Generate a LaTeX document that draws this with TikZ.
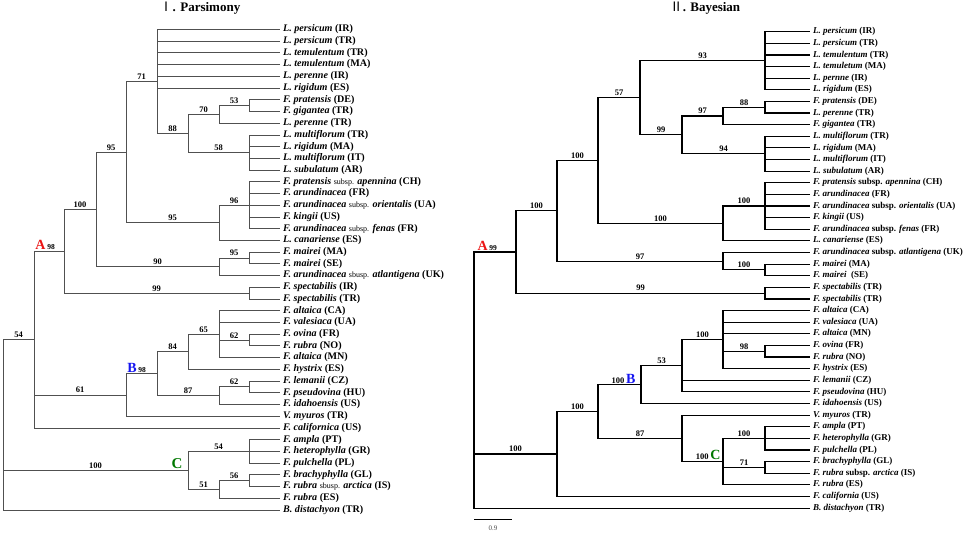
\documentclass[tikz,border=0pt]{standalone}
\usepackage{fontspec}
\setmainfont{Liberation Serif}
\newfontfamily\cjk{Noto Sans CJK SC}
\definecolor{lgray}{RGB}{80,80,80}
\definecolor{cred}{RGB}{235,20,20}
\definecolor{cblue}{RGB}{20,20,240}
\definecolor{cgreen}{RGB}{0,120,0}
\newcommand\spn[1]{\textit{#1}}
\newcommand\ssp[1]{{\fontsize{8}{8}\selectfont\mdseries #1}}
\newcommand\cladeL[3]{\textcolor{#1}{\fontsize{14}{14}\selectfont\bfseries #2}\,{\fontsize{7.5}{8}\selectfont\bfseries #3}}
\newcommand\cladeR[3]{{\fontsize{8.5}{9}\selectfont\bfseries #3}\,\textcolor{#1}{\fontsize{14}{14}\selectfont\bfseries #2}}
\tikzset{
  le/.style={draw=lgray, line width=0.95pt},
  re/.style={draw=black, line width=1.15pt},
  lleaf/.style={anchor=west, inner xsep=3pt, inner ysep=0pt, text height=6.8pt, text depth=2.2pt, font=\fontsize{10.1}{10.5}\selectfont\bfseries},
  rleaf/.style={anchor=west, inner xsep=3pt, inner ysep=0pt, text height=6.2pt, text depth=2pt, font=\fontsize{9}{10}\selectfont\bfseries},
  blab/.style={anchor=south, inner sep=1.5pt, font=\fontsize{8.5}{9}\selectfont\bfseries},
  ttl/.style={font=\fontsize{13}{14}\selectfont\bfseries, inner sep=0pt},
}
\begin{document}
\begin{tikzpicture}[x=1pt,y=-1pt]
\useasboundingbox (0,0) rectangle (964,535);
% titles
\node[ttl] (t1) at (200,8.5) {{\cjk\mdseries Ⅰ}. Parsimony};
\node[ttl] (t2) at (705,8.5) {{\cjk\mdseries Ⅱ}. Bayesian};

% ================= LEFT TREE (Parsimony) =================
\node[lleaf] (L1) at (280,29.50) {\spn{L. persicum} (IR)};
\node[lleaf] (L2) at (280,41.22) {\spn{L. persicum} (TR)};
\node[lleaf] (L3) at (280,52.94) {\spn{L. temulentum} (TR)};
\node[lleaf] (L4) at (280,64.66) {\spn{L. temulentum} (MA)};
\node[lleaf] (L5) at (280,76.38) {\spn{L. perenne} (IR)};
\node[lleaf] (L6) at (280,88.10) {\spn{L. rigidum} (ES)};
\node[lleaf] (L7) at (280,99.82) {\spn{F. pratensis} (DE)};
\node[lleaf] (L8) at (280,111.54) {\spn{F. gigantea} (TR)};
\node[lleaf] (L9) at (280,123.26) {\spn{L. perenne} (TR)};
\node[lleaf] (L10) at (280,134.98) {\spn{L. multiflorum} (TR)};
\node[lleaf] (L11) at (280,146.70) {\spn{L. rigidum} (MA)};
\node[lleaf] (L12) at (280,158.42) {\spn{L. multiflorum} (IT)};
\node[lleaf] (L13) at (280,170.14) {\spn{L. subulatum} (AR)};
\node[lleaf] (L14) at (280,181.86) {\spn{F. pratensis} \ssp{subsp.} \spn{apennina} (CH)};
\node[lleaf] (L15) at (280,193.58) {\spn{F. arundinacea} (FR)};
\node[lleaf] (L16) at (280,205.30) {\spn{F. arundinacea} \ssp{subsp.} \spn{orientalis} (UA)};
\node[lleaf] (L17) at (280,217.02) {\spn{F. kingii} (US)};
\node[lleaf] (L18) at (280,228.74) {\spn{F. arundinacea} \ssp{subsp.} \spn{fenas} (FR)};
\node[lleaf] (L19) at (280,240.46) {\spn{L. canariense} (ES)};
\node[lleaf] (L20) at (280,252.18) {\spn{F. mairei} (MA)};
\node[lleaf] (L21) at (280,263.90) {\spn{F. mairei} (SE)};
\node[lleaf] (L22) at (280,275.62) {\spn{F. arundinacea} \ssp{sbusp.} \spn{atlantigena} (UK)};
\node[lleaf] (L23) at (280,287.34) {\spn{F. spectabilis} (IR)};
\node[lleaf] (L24) at (280,299.06) {\spn{F. spectabilis} (TR)};
\node[lleaf] (L25) at (280,310.78) {\spn{F. altaica} (CA)};
\node[lleaf] (L26) at (280,322.50) {\spn{F. valesiaca} (UA)};
\node[lleaf] (L27) at (280,334.22) {\spn{F. ovina} (FR)};
\node[lleaf] (L28) at (280,345.94) {\spn{F. rubra} (NO)};
\node[lleaf] (L29) at (280,357.66) {\spn{F. altaica} (MN)};
\node[lleaf] (L30) at (280,369.38) {\spn{F. hystrix} (ES)};
\node[lleaf] (L31) at (280,381.10) {\spn{F. lemanii} (CZ)};
\node[lleaf] (L32) at (280,392.82) {\spn{F. pseudovina} (HU)};
\node[lleaf] (L33) at (280,404.54) {\spn{F. idahoensis} (US)};
\node[lleaf] (L34) at (280,416.26) {\spn{V. myuros} (TR)};
\node[lleaf] (L35) at (280,427.98) {\spn{F. californica} (US)};
\node[lleaf] (L36) at (280,439.70) {\spn{F. ampla} (PT)};
\node[lleaf] (L37) at (280,451.42) {\spn{F. heterophylla} (GR)};
\node[lleaf] (L38) at (280,463.14) {\spn{F. pulchella} (PL)};
\node[lleaf] (L39) at (280,474.86) {\spn{F. brachyphylla} (GL)};
\node[lleaf] (L40) at (280,486.58) {\spn{F. rubra} \ssp{sbusp.} \spn{arctica} (IS)};
\node[lleaf] (L41) at (280,498.30) {\spn{F. rubra} (ES)};
\node[lleaf] (L42) at (280,510.02) {\spn{B. distachyon} (TR)};

\coordinate (n53) at (249,105.68);
\coordinate (n70) at (219,114.47);
\coordinate (n58) at (249,152.56);
\coordinate (n88) at (188,133.52);
\coordinate (n71) at (157,81.51);
\coordinate (n96) at (249,205.30);
\coordinate (n95b) at (219,222.88);
\coordinate (n95a) at (126,152.20);
\coordinate (n95m) at (249,258.04);
\coordinate (n90) at (219,266.83);
\coordinate (n100) at (96,209.52);
\coordinate (n99) at (249,293.20);
\coordinate (nA) at (64,251.36);
\coordinate (n62a) at (249,340.08);
\coordinate (n65) at (219,334.22);
\coordinate (n84) at (188,351.80);
\coordinate (n62b) at (249,386.96);
\coordinate (n87) at (219,395.75);
\coordinate (nB) at (157,373.78);
\coordinate (n61) at (126,395.02);
\coordinate (n54) at (34,339.67);
\coordinate (n54c) at (249,451.42);
\coordinate (n56) at (249,480.72);
\coordinate (n51) at (219,489.51);
\coordinate (nC) at (188,470.47);
\coordinate (lR) at (3,424.85);

\draw[le] (lR) |- (n54) node[blab,pos=0.75]{54}
  (lR) |- (nC) node[blab,pos=0.75]{100}
  node[pos=1,anchor=south east,inner xsep=5pt,inner ysep=1pt,font=\fontsize{15}{15}\selectfont\bfseries,text=cgreen]{C}
  (lR) |- (L42.west);
\draw[le] (n54) |- (nA) node[pos=0.5,anchor=south west,inner xsep=1pt,inner ysep=1pt]{\cladeL{cred}{A}{98}}
  (n54) |- (n61) node[blab,pos=0.75]{61}
  (n54) |- (L35.west);
\draw[le] (nA) |- (n100) node[blab,pos=0.75]{100}
  (nA) |- (n99) node[blab,pos=0.75]{99};
\draw[le] (n100) |- (n95a) node[blab,pos=0.75]{95}
  (n100) |- (n90) node[blab,pos=0.75]{90};
\draw[le] (n95a) |- (n71) node[blab,pos=0.75]{71}
  (n95a) |- (n95b) node[blab,pos=0.75]{95};
\draw[le] (n71) |- (L1.west) (n71) |- (L2.west) (n71) |- (L3.west)
  (n71) |- (L4.west) (n71) |- (L5.west) (n71) |- (L6.west)
  (n71) |- (n88) node[blab,pos=0.75]{88};
\draw[le] (n88) |- (n70) node[blab,pos=0.75]{70}
  (n88) |- (n58) node[blab,pos=0.75]{58};
\draw[le] (n70) |- (n53) node[blab,pos=0.75]{53}
  (n70) |- (L9.west);
\draw[le] (n53) |- (L7.west) (n53) |- (L8.west);
\draw[le] (n58) |- (L10.west) (n58) |- (L11.west) (n58) |- (L12.west) (n58) |- (L13.west);
\draw[le] (n95b) |- (n96) node[blab,pos=0.75]{96}
  (n95b) |- (L19.west);
\draw[le] (n96) |- (L14.west) (n96) |- (L15.west) (n96) |- (L16.west)
  (n96) |- (L17.west) (n96) |- (L18.west);
\draw[le] (n90) |- (n95m) node[blab,pos=0.75]{95}
  (n90) |- (L22.west);
\draw[le] (n95m) |- (L20.west) (n95m) |- (L21.west);
\draw[le] (n99) |- (L23.west) (n99) |- (L24.west);
\draw[le] (n61) |- (nB) node[pos=0.5,anchor=south west,inner xsep=1pt,inner ysep=1pt]{\cladeL{cblue}{B}{98}}
  (n61) |- (L34.west);
\draw[le] (nB) |- (n84) node[blab,pos=0.75]{84}
  (nB) |- (n87) node[blab,pos=0.75]{87};
\draw[le] (n84) |- (n65) node[blab,pos=0.75]{65}
  (n84) |- (L30.west);
\draw[le] (n65) |- (L25.west) (n65) |- (L26.west) (n65) |- (L29.west)
  (n65) |- (n62a) node[blab,pos=0.75]{62};
\draw[le] (n62a) |- (L27.west) (n62a) |- (L28.west);
\draw[le] (n87) |- (n62b) node[blab,pos=0.75]{62}
  (n87) |- (L33.west);
\draw[le] (n62b) |- (L31.west) (n62b) |- (L32.west);
\draw[le] (nC) |- (n54c) node[blab,pos=0.75]{54}
  (nC) |- (n51) node[blab,pos=0.75]{51};
\draw[le] (n54c) |- (L36.west) (n54c) |- (L37.west) (n54c) |- (L38.west);
\draw[le] (n51) |- (n56) node[blab,pos=0.75]{56}
  (n51) |- (L41.west);
\draw[le] (n56) |- (L39.west) (n56) |- (L40.west);

% ================= RIGHT TREE (Bayesian) =================
\node[rleaf] (R1) at (810,31.70) {\spn{L. persicum} (IR)};
\node[rleaf] (R2) at (810,43.32) {\spn{L. persicum} (TR)};
\node[rleaf] (R3) at (810,54.94) {\spn{L. temulentum} (TR)};
\node[rleaf] (R4) at (810,66.56) {\spn{L. temuletum} (MA)};
\node[rleaf] (R5) at (810,78.18) {\spn{L. pernne} (IR)};
\node[rleaf] (R6) at (810,89.80) {\spn{L. rigidum} (ES)};
\node[rleaf] (R7) at (810,101.42) {\spn{F. pratensis} (DE)};
\node[rleaf] (R8) at (810,113.04) {\spn{L. perenne} (TR)};
\node[rleaf] (R9) at (810,124.66) {\spn{F. gigantea} (TR)};
\node[rleaf] (R10) at (810,136.28) {\spn{L. multiflorum} (TR)};
\node[rleaf] (R11) at (810,147.90) {\spn{L. rigidum} (MA)};
\node[rleaf] (R12) at (810,159.52) {\spn{L. multiflorum} (IT)};
\node[rleaf] (R13) at (810,171.14) {\spn{L. subulatum} (AR)};
\node[rleaf] (R14) at (810,182.76) {\spn{F. pratensis} subsp. \spn{apennina} (CH)};
\node[rleaf] (R15) at (810,194.38) {\spn{F. arundinacea} (FR)};
\node[rleaf] (R16) at (810,206.00) {\spn{F. arundinacea} subsp. \spn{orientalis} (UA)};
\node[rleaf] (R17) at (810,217.62) {\spn{F. kingii} (US)};
\node[rleaf] (R18) at (810,229.24) {\spn{F. arundinacea} subsp. \spn{fenas} (FR)};
\node[rleaf] (R19) at (810,240.86) {\spn{L. canariense} (ES)};
\node[rleaf] (R20) at (810,252.48) {\spn{F. arundinacea} subsp. \spn{atlantigena} (UK)};
\node[rleaf] (R21) at (810,264.10) {\spn{F. mairei} (MA)};
\node[rleaf] (R22) at (810,275.72) {\spn{F. mairei}\ \ (SE)};
\node[rleaf] (R23) at (810,287.34) {\spn{F. spectabilis} (TR)};
\node[rleaf] (R24) at (810,298.96) {\spn{F. spectabilis} (TR)};
\node[rleaf] (R25) at (810,310.58) {\spn{F. altaica} (CA)};
\node[rleaf] (R26) at (810,322.20) {\spn{F. valesiaca} (UA)};
\node[rleaf] (R27) at (810,333.82) {\spn{F. altaica} (MN)};
\node[rleaf] (R28) at (810,345.44) {\spn{F. ovina} (FR)};
\node[rleaf] (R29) at (810,357.06) {\spn{F. rubra} (NO)};
\node[rleaf] (R30) at (810,368.68) {\spn{F. hystrix} (ES)};
\node[rleaf] (R31) at (810,380.30) {\spn{F. lemanii} (CZ)};
\node[rleaf] (R32) at (810,391.92) {\spn{F. pseudovina} (HU)};
\node[rleaf] (R33) at (810,403.54) {\spn{F. idahoensis} (US)};
\node[rleaf] (R34) at (810,415.16) {\spn{V. myuros} (TR)};
\node[rleaf] (R35) at (810,426.78) {\spn{F. ampla} (PT)};
\node[rleaf] (R36) at (810,438.40) {\spn{F. heterophylla} (GR)};
\node[rleaf] (R37) at (810,450.02) {\spn{F. pulchella} (PL)};
\node[rleaf] (R38) at (810,461.64) {\spn{F. brachyphylla} (GL)};
\node[rleaf] (R39) at (810,473.26) {\spn{F. rubra} subsp. \spn{arctica} (IS)};
\node[rleaf] (R40) at (810,484.88) {\spn{F. rubra} (ES)};
\node[rleaf] (R41) at (810,496.50) {\spn{F. california} (US)};
\node[rleaf] (R42) at (810,508.12) {\spn{B. distachyon} (TR)};

\coordinate (r93) at (765,60.75);
\coordinate (r88) at (765,107.23);
\coordinate (r97) at (723,115.95);
\coordinate (r94) at (765,153.71);
\coordinate (r99) at (682,134.83);
\coordinate (r57) at (640,97.79);
\coordinate (r100e) at (765,206.00);
\coordinate (r100d) at (723,223.43);
\coordinate (r100c) at (598,160.61);
\coordinate (r100m) at (765,269.91);
\coordinate (r97b) at (723,261.20);
\coordinate (r100b) at (557,210.90);
\coordinate (r99s) at (765,293.15);
\coordinate (rA) at (516,252.03);
\coordinate (r98) at (765,351.25);
\coordinate (r100f) at (723,339.63);
\coordinate (r53) at (682,365.78);
\coordinate (rB) at (641,384.66);
\coordinate (r100p) at (765,438.40);
\coordinate (r71) at (765,467.45);
\coordinate (rC) at (723,461.64);
\coordinate (r87) at (682,438.40);
\coordinate (r100g) at (598,411.53);
\coordinate (r100h) at (557,454.02);
\coordinate (rR) at (474,380.08);

\draw[re] (rR) |- (rA) node[pos=0.5,anchor=south west,inner xsep=3pt,inner ysep=1pt]{\cladeL{cred}{A}{99}}
  (rR) |- (r100h) node[blab,pos=0.75]{100}
  (rR) |- (R42.west);
\draw[re] (rA) |- (r100b) node[blab,pos=0.75]{100}
  (rA) |- (r99s) node[blab,pos=0.75]{99};
\draw[re] (r100b) |- (r100c) node[blab,pos=0.75]{100}
  (r100b) |- (r97b) node[blab,pos=0.75]{97};
\draw[re] (r100c) |- (r57) node[blab,pos=0.75]{57}
  (r100c) |- (r100d) node[blab,pos=0.75]{100};
\draw[re] (r57) |- (r93) node[blab,pos=0.75]{93}
  (r57) |- (r99) node[blab,pos=0.75]{99};
\draw[re] (r93) |- (R1.west) (r93) |- (R2.west) (r93) |- (R3.west)
  (r93) |- (R4.west) (r93) |- (R5.west) (r93) |- (R6.west);
\draw[re] (r99) |- (r97) node[blab,pos=0.75]{97}
  (r99) |- (r94) node[blab,pos=0.75]{94};
\draw[re] (r97) |- (r88) node[blab,pos=0.75]{88}
  (r97) |- (R9.west);
\draw[re] (r88) |- (R7.west) (r88) |- (R8.west);
\draw[re] (r94) |- (R10.west) (r94) |- (R11.west) (r94) |- (R12.west) (r94) |- (R13.west);
\draw[re] (r100d) |- (r100e) node[blab,pos=0.75]{100}
  (r100d) |- (R19.west);
\draw[re] (r100e) |- (R14.west) (r100e) |- (R15.west) (r100e) |- (R16.west)
  (r100e) |- (R17.west) (r100e) |- (R18.west);
\draw[re] (r97b) |- (R20.west)
  (r97b) |- (r100m) node[blab,pos=0.75]{100};
\draw[re] (r100m) |- (R21.west) (r100m) |- (R22.west);
\draw[re] (r99s) |- (R23.west) (r99s) |- (R24.west);
\draw[re] (r100h) |- (r100g) node[blab,pos=0.75]{100}
  (r100h) |- (R41.west);
\draw[re] (r100g) |- (rB) node[pos=1,anchor=south east,inner xsep=5pt,inner ysep=1pt]{\cladeR{cblue}{B}{100}}
  (r100g) |- (r87) node[blab,pos=0.75]{87};
\draw[re] (rB) |- (r53) node[blab,pos=0.75]{53}
  (rB) |- (R33.west);
\draw[re] (r53) |- (r100f) node[blab,pos=0.75]{100}
  (r53) |- (R31.west) (r53) |- (R32.west);
\draw[re] (r100f) |- (R25.west) (r100f) |- (R26.west) (r100f) |- (R27.west)
  (r100f) |- (R30.west)
  (r100f) |- (r98) node[blab,pos=0.75]{98};
\draw[re] (r98) |- (R28.west) (r98) |- (R29.west);
\draw[re] (r87) |- (R34.west)
  (r87) |- (rC) node[pos=1,anchor=south east,inner xsep=2pt,inner ysep=1pt]{\cladeR{cgreen}{C}{100}};
\draw[re] (rC) |- (r100p) node[blab,pos=0.75]{100}
  (rC) |- (r71) node[blab,pos=0.75]{71}
  (rC) |- (R40.west);
\draw[re] (r100p) |- (R35.west) (r100p) |- (R36.west) (r100p) |- (R37.west);
\draw[re] (r71) |- (R38.west) (r71) |- (R39.west);

% scale bar
\coordinate (sb1) at (474,519);
\coordinate (sb2) at (512,519);
\draw[line width=0.9pt, draw=black] (sb1) -- (sb2);
\node[font=\fontsize{7}{7}\selectfont, text=black!70, inner sep=0pt] (sbl) at (493,528.5) {0.9};
\end{tikzpicture}
\end{document}
